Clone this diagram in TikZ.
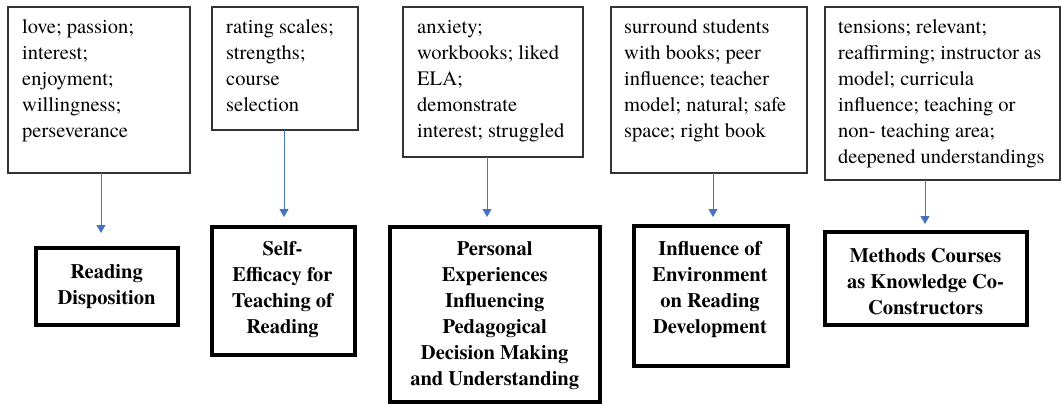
\documentclass[tikz,border=0pt]{standalone}
\usepackage{fontspec}
\setmainfont{texgyretermes}[Extension=.otf, UprightFont=*-regular, BoldFont=*-bold, ItalicFont=*-italic, BoldItalicFont=*-bolditalic]
\usetikzlibrary{arrows.meta}
\definecolor{arrblue}{HTML}{4472C4}
\begin{document}
\begin{tikzpicture}[x=1pt,y=-1pt,
  topbox/.style={draw=black!80, line width=1.2pt, inner sep=0pt, outer sep=0pt},
  botbox/.style={draw=black, line width=4pt, inner sep=0pt, outer sep=0pt},
  toptext/.style={inner sep=0pt, align=left, anchor=north west, font=\fontsize{20.5}{26}\selectfont},
  bottext/.style={inner sep=0pt, align=center, anchor=north, font=\bfseries\fontsize{20.5}{26}\selectfont},
  conn/.style={draw=arrblue, line width=0.9pt, -{Triangle[width=9pt,length=8pt]}}]
\useasboundingbox (0,0) rectangle (1062,405);
% top boxes
\node[topbox, minimum width=182pt, minimum height=166pt] (t1) at (99,90) {};
\node[topbox, minimum width=146pt, minimum height=123pt] (t2) at (285,68.5) {};
\node[topbox, minimum width=180pt, minimum height=150pt] (t3) at (493,82) {};
\node[topbox, minimum width=196pt, minimum height=166pt] (t4) at (709,90) {};
\node[topbox, minimum width=235pt, minimum height=173pt] (t5) at (942.5,93.5) {};
\node[toptext] (x1) at (22,14.8) {\strut love; passion;\\interest;\\enjoyment;\\willingness;\\perseverance};
\node[toptext] (x2) at (226,14.8) {\strut rating scales;\\strengths;\\course\\selection};
\node[toptext] (x3) at (417,14.8) {\strut anxiety;\\workbooks; liked\\ELA;\\demonstrate\\interest; struggled};
\node[toptext] (x4) at (624,14.8) {\strut surround students\\with books; peer\\influence; teacher\\model; natural; safe\\space; right book};
\node[toptext] (x5) at (838,14.8) {\strut tensions; relevant;\\reaffirming; instructor as\\model; curricula\\influence; teaching or\\non- teaching area;\\deepened understandings};
% bottom boxes
\node[botbox, minimum width=142pt, minimum height=77pt] (b1) at (107,286.5) {};
\node[botbox, minimum width=143pt, minimum height=128pt] (b2) at (283.5,291) {};
\node[botbox, minimum width=210pt, minimum height=175pt] (b3) at (495,314.5) {};
\node[botbox, minimum width=154pt, minimum height=140pt] (b4) at (711,296) {};
\node[botbox, minimum width=202pt, minimum height=93pt] (b5) at (926,278.5) {};
\node[bottext] (y1) at (106.5,259.8) {\strut Reading\\Disposition};
\node[bottext] (y2) at (282.5,236.8) {\strut Self-\\Efficacy for\\Teaching of\\Reading};
\node[bottext] (y3) at (494.7,236.8) {\strut Personal\\Experiences\\Influencing\\Pedagogical\\Decision Making\\and Understanding};
\node[bottext] (y4) at (710,236.8) {\strut Influence of\\Environment\\on Reading\\Development};
\node[bottext] (y5) at (925.5,243.8) {\strut Methods Courses\\as Knowledge Co-\\Constructors};
% connectors
\coordinate (a1) at (101,0);
\coordinate (a2) at (284,0);
\coordinate (a3) at (487,0);
\coordinate (a4) at (713,0);
\coordinate (a5) at (925,0);
\draw[conn, shorten >=15pt] (a1 |- t1.south) -- (a1 |- b1.north);
\draw[conn, shorten >=10pt] (a2 |- t2.south) -- (a2 |- b2.north);
\draw[conn, shorten >=10pt] (a3 |- t3.south) -- (a3 |- b3.north);
\draw[conn, shorten >=9pt] (a4 |- t4.south) -- (a4 |- b4.north);
\draw[conn, shorten >=8pt] (a5 |- t5.south) -- (a5 |- b5.north);
\end{tikzpicture}
\end{document}
